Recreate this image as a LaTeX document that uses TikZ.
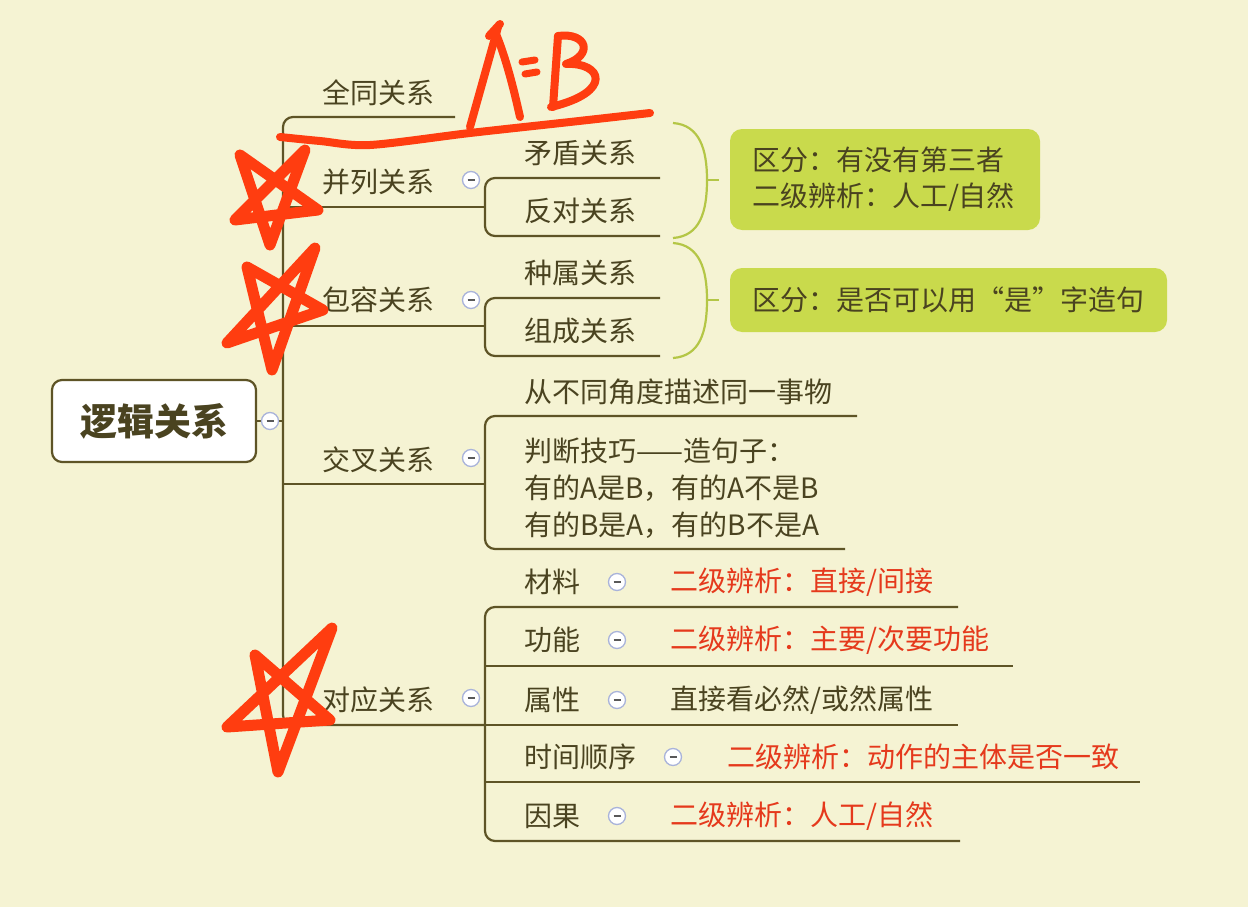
\documentclass[tikz,border=0pt]{standalone}
\usepackage{fontspec}
\setmainfont{Noto Sans CJK SC}
\definecolor{bg}{HTML}{F5F3D3}
\definecolor{ln}{HTML}{5E5426}
\definecolor{tx}{HTML}{4A4320}
\definecolor{rtx}{HTML}{E5391C}
\definecolor{ink}{HTML}{FF3D10}
\definecolor{grn}{HTML}{C9DA4C}
\definecolor{brk}{HTML}{B4C646}
\definecolor{tgl}{HTML}{A9B3DA}
\newcommand{\mn}{\textcolor{gray!70!black}{\rule[-0.75pt]{7pt}{1.5pt}}}
\begin{document}
\begin{tikzpicture}[x=1pt,y=-1pt,
  lbl/.style={anchor=west, inner sep=0pt, text=tx, font=\fontsize{28}{36}\selectfont},
  rlbl/.style={lbl, text=rtx},
  branch/.style={draw=ln, line width=2.2pt, rounded corners=10pt},
  tog/.style={circle, draw=tgl, line width=1.3pt, fill=white, minimum size=17pt, inner sep=0pt},
  rootbox/.style={draw=ln, line width=2.2pt, fill=white, rounded corners=10pt, minimum width=204pt, minimum height=82pt, text=tx, font=\bfseries\fontsize{37}{44}\selectfont},
  gbox/.style={fill=grn, rounded corners=12pt, inner xsep=22pt, inner ysep=0pt, align=left, text=tx, font=\fontsize{28}{36}\selectfont},
  brace/.style={draw=brk, line width=2.2pt},
  inkst/.style={draw=ink, line width=11pt, line cap=round, line join=round}]
\fill[bg] (0,0) rectangle (1248,907);
\useasboundingbox (0,0) rectangle (1248,907);

% junction coordinates
\coordinate (qtEnd) at (455,117);
\coordinate (rtJ) at (283,421);
\coordinate (blJ) at (283,207); \coordinate (blS) at (485,207);
\coordinate (brJ) at (283,326); \coordinate (brS) at (485,326);
\coordinate (jcJ) at (283,484); \coordinate (jcS) at (485,484);
\coordinate (dyJ) at (283,725); \coordinate (dyS) at (485,725);
\coordinate (md) at (660,178); \coordinate (fd) at (660,236);
\coordinate (zs) at (660,298); \coordinate (zc) at (660,356);
\coordinate (cb) at (857,416); \coordinate (pd) at (845,549);
\coordinate (cl) at (958,607); \coordinate (gn) at (1013,666);
\coordinate (sx) at (958,725); \coordinate (sj) at (1140,782);
\coordinate (yg) at (960,841);

% root
\node[rootbox] (root) at (154,421) {逻辑关系};

% connectors
\draw[branch] (qtEnd) -| (dyJ) -- (dyS);
\draw[branch] (root.east) -- (rtJ);
\draw[branch] (blJ) -- (blS);
\draw[branch] (brJ) -- (brS);
\draw[branch] (jcJ) -- (jcS);
\draw[branch] (md) -| (blS) |- (fd);
\draw[branch] (zs) -| (brS) |- (zc);
\draw[branch] (cb) -| (jcS) |- (pd);
\draw[branch] (cl) -| (dyS) |- (yg);
\draw[branch] (gn -| dyS) -- (gn);
\draw[branch] (dyS) -- (sx);
\draw[branch] (sj -| dyS) -- (sj);

% toggles
\node[tog] (t0) at (270,421) {\mn};
\node[tog] (t1) at (471,180) {\mn};
\node[tog] (t2) at (471,300) {\mn};
\node[tog] (t3) at (471,458) {\mn};
\node[tog] (t4) at (471,698) {\mn};
\node[tog] (t5) at (617,582) {\mn};
\node[tog] (t6) at (617,640) {\mn};
\node[tog] (t7) at (617,700) {\mn};
\node[tog] (t8) at (673,757) {\mn};
\node[tog] (t9) at (617,816) {\mn};

% main branch labels
\node[lbl] (qt) at (322,93) {全同关系};
\node[lbl] (bl) at (322,182) {并列关系};
\node[lbl] (br) at (322,300) {包容关系};
\node[lbl] (jc) at (322,460) {交叉关系};
\node[lbl] (dy) at (322,700) {对应关系};

% sub labels
\node[lbl] (mdl) at (524,153) {矛盾关系};
\node[lbl] (fdl) at (524,211) {反对关系};
\node[lbl] (zsl) at (524,273) {种属关系};
\node[lbl] (zcl) at (524,331) {组成关系};
\node[lbl] (cbl) at (524,392) {从不同角度描述同一事物};
\node[lbl, align=left, font=\fontsize{28}{37}\selectfont] (pdl) at (524,488) {判断技巧——造句子：\\有的A是B，有的A不是B\\有的B是A，有的B不是A};
\node[lbl] (cll) at (524,582) {材料};
\node[lbl] (gnl) at (524,640) {功能};
\node[lbl] (sxl) at (524,700) {属性};
\node[lbl] (sjl) at (524,757) {时间顺序};
\node[lbl] (ygl) at (524,816) {因果};
\node[rlbl] (clr) at (670,582) {二级辨析：直接/间接};
\node[rlbl] (gnr) at (670,640) {二级辨析：主要/次要功能};
\node[lbl] (sxr) at (670,700) {直接看必然/或然属性};
\node[rlbl] (sjr) at (727,757) {二级辨析：动作的主体是否一致};
\node[rlbl] (ygr) at (670,816) {二级辨析：人工/自然};

% braces
\draw[brace] (673,123) .. controls (700,125) and (707,150) .. (707,180) .. controls (707,212) and (700,236) .. (673,238);
\draw[brace] (707,180) -- (719,180);
\draw[brace] (673,243) .. controls (700,245) and (707,270) .. (707,300) .. controls (707,332) and (700,356) .. (673,358);
\draw[brace] (707,300) -- (719,300);

% green boxes
\node[gbox, minimum width=310pt, minimum height=101pt, text width=266pt] (g1) at (885,179.5) {区分：有没有第三者\\二级辨析：人工/自然};
\node[gbox, minimum width=437pt, minimum height=64pt, text width=393pt] (g2) at (948.5,300) {区分：是否可以用“是”字造句};

% hand-drawn ink
\draw[inkst] (240,155) -- (270,245) -- (305,150) -- (235,220) -- (318,210) -- cycle;
\draw[inkst] (247,267) -- (272,370) -- (315,248) -- (227,343) -- (323,310) -- cycle;
\draw[inkst] (255,655) -- (278,772) -- (332,628) -- (227,727) -- (330,720) -- cycle;
\draw[inkst, line width=8pt] plot[smooth] coordinates {(280,137) (320,141) (370,145) (470,133) (570,122) (650,113)};
\draw[inkst, line width=8pt] (470,127) -- (498,27);
\draw[inkst, line width=8pt] (496,34) .. controls (506,58) and (514,90) .. (520,117);
\draw[inkst, line width=8pt] (489,36) -- (500,24);
\draw[inkst, line width=7pt] (522,62) -- (535,60);
\draw[inkst, line width=7pt] (525,74) -- (537,72);
\draw[inkst, line width=8pt] (558,36) -- (553,107);
\draw[inkst, line width=8pt] (558,36) .. controls (587,32) and (594,55) .. (566,64) .. controls (602,62) and (614,92) .. (551,107);
\end{tikzpicture}
\end{document}
